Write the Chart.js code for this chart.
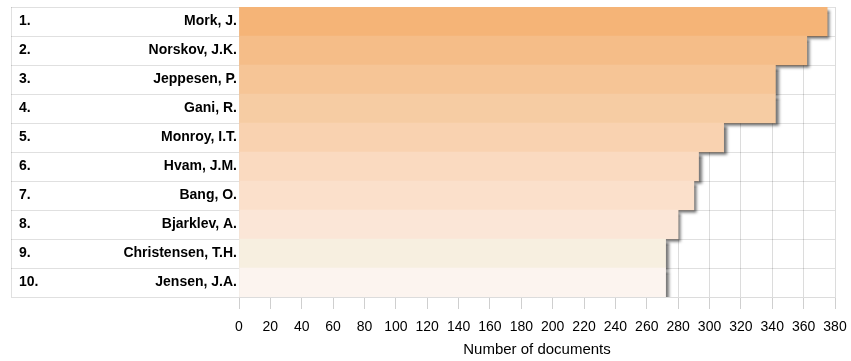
<!DOCTYPE html>
<html>
<head>
<meta charset="utf-8">
<script src="https://cdn.jsdelivr.net/npm/chart.js@4"></script>
<style>
  html, body { margin: 0; padding: 0; background: #fff; }
  #wrap { width: 851px; height: 361px; }
</style>
</head>
<body>
<div id="wrap"><canvas id="authorChart"></canvas></div>
<script>
/* data */
const ranks = ['1.', '2.', '3.', '4.', '5.', '6.', '7.', '8.', '9.', '10.'];
const authors = ['Mork, J.', 'Norskov, J.K.', 'Jeppesen, P.', 'Gani, R.', 'Monroy, I.T.',
  'Hvam, J.M.', 'Bang, O.', 'Bjarklev, A.', 'Christensen, T.H.', 'Jensen, J.A.'];
const documents = [375, 362, 342, 342, 309, 293, 290, 280, 272, 272];
const xTicks = [0, 380, 20]; // min, max, step

/* colours, top to bottom */
const barColors = ['#f5b477', '#f5bd88', '#f6c596', '#f6cca3', '#f9d2b0',
  '#fadac0', '#fbe0cb', '#fbe6d7', '#f7efe0', '#fcf4ef'];

const FONT = "'Liberation Sans', Arial, Helvetica, sans-serif";
const TABLE_LEFT = 11;
const LABEL_W = 228;

/* shadow under bars */
const shadowPlugin = {
  id: 'barShadow',
  beforeDatasetsDraw(chart) {
    const ctx = chart.ctx;
    ctx.save();
    ctx.shadowColor = 'rgba(0,0,0,0.6)';
    ctx.shadowBlur = 3;
    ctx.shadowOffsetX = 3;
    ctx.shadowOffsetY = 3;
  },
  afterDatasetsDraw(chart) {
    chart.ctx.restore();
  }
};

/* rank numbers + left edge of the label table */
const tablePlugin = {
  id: 'rankTable',
  afterDraw(chart) {
    const ctx = chart.ctx;
    const y = chart.scales.y;
    const top = chart.chartArea.top, bottom = chart.chartArea.bottom;
    ctx.save();
    ctx.strokeStyle = 'rgba(0,0,0,0.12)';
    ctx.lineWidth = 1;
    ctx.beginPath();
    ctx.moveTo(TABLE_LEFT + 0.5, top);
    ctx.lineTo(TABLE_LEFT + 0.5, bottom);
    ctx.stroke();
    ctx.fillStyle = '#000';
    ctx.font = 'bold 14px ' + FONT;
    ctx.textAlign = 'left';
    ctx.textBaseline = 'middle';
    ranks.forEach((r, i) => {
      ctx.fillText(r, TABLE_LEFT + 8, y.getPixelForValue(i));
    });
    ctx.restore();
  }
};

new Chart(document.getElementById('authorChart'), {
  type: 'bar',
  data: {
    labels: authors,
    datasets: [{
      label: 'Number of documents',
      data: documents,
      backgroundColor: barColors,
      borderWidth: 0,
      categoryPercentage: 1,
      barPercentage: 1
    }]
  },
  options: {
    indexAxis: 'y',
    responsive: true,
    maintainAspectRatio: false,
    animation: false,
    layout: { padding: { left: TABLE_LEFT, top: 7, right: 16, bottom: 0 } },
    plugins: {
      legend: { display: false },
      tooltip: { enabled: false }
    },
    scales: {
      x: {
        min: xTicks[0],
        max: xTicks[1],
        afterFit(scale) {
          scale.height = 64;
          scale.paddingRight = 0;
          scale.paddingLeft = 0;
        },
        ticks: {
          stepSize: xTicks[2],
          color: '#000',
          padding: 10,
          font: { family: FONT, size: 14 }
        },
        grid: {
          color: '#dcdcdc',
          tickColor: '#cfcfcf',
          tickLength: 12
        },
        border: { color: '#dcdcdc' },
        title: {
          display: true,
          text: 'Number of documents',
          color: '#000',
          font: { family: FONT, size: 15 },
          padding: { top: 6, bottom: 2 }
        }
      },
      y: {
        z: 1,
        afterFit(scale) { scale.width = LABEL_W; },
        ticks: {
          color: '#000',
          padding: -LABEL_W + 2,
          font: { family: FONT, size: 14, weight: 'bold' }
        },
        grid: {
          color: 'rgba(0,0,0,0.12)',
          tickLength: LABEL_W
        },
        border: { display: false }
      }
    }
  },
  plugins: [shadowPlugin, tablePlugin]
});
</script>
</body>
</html>
